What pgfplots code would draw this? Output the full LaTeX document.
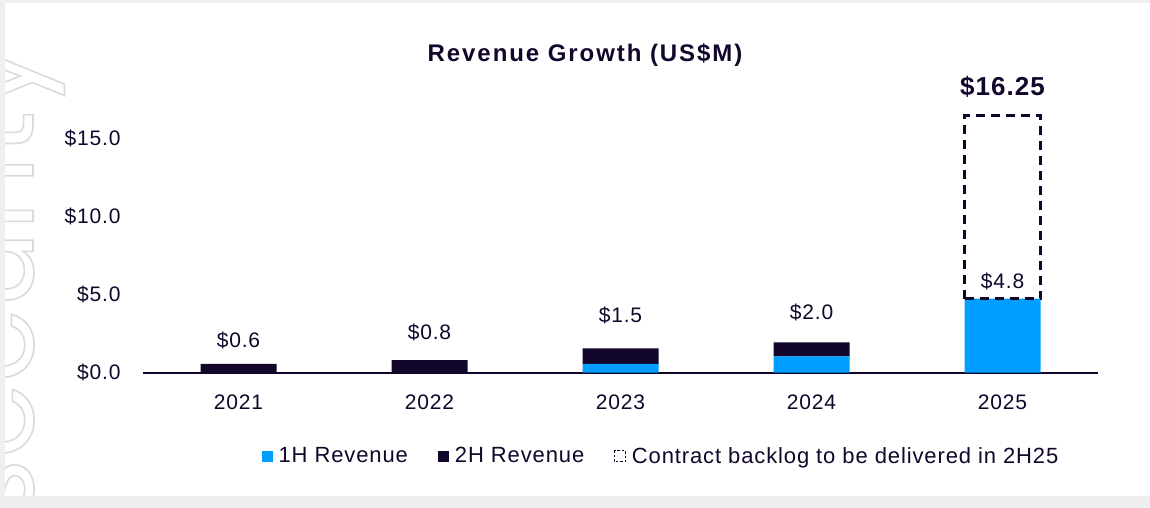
\documentclass[border=0pt]{standalone}
\usepackage{fontspec}
\setmainfont{Liberation Sans}[LetterSpace=4]
\newfontfamily\wmfont{Poppins}
\usepackage{pgfplots}
\pgfplotsset{compat=1.18}
\usepackage{pgfplotstable}
\definecolor{navy}{HTML}{12062A}
\definecolor{cblue}{HTML}{009EFF}
\definecolor{bordergray}{HTML}{EFEFEF}
\definecolor{wmgray}{HTML}{DADADA}

% dy: offset (pt) of each label from the middle of the 2H segment
\pgfplotstableread{
x h1 h2 lab dy
0 0 0.57 0.6 28
1 0 0.80 0.8 34
2 0.56 1.00 1.5 41
3 1.05 0.90 2.0 37
4 4.75 0 4.8 17
}\revtable

\pgfplotstableread{
x base backlog lab1 lab2
4 4.75 11.75 4.8 16.25
}\backlogtable

\pgfplotsset{
  commonaxis/.style={
    at={(143pt,135.3pt)}, anchor=south west,
    scale only axis, width=955pt, height=312pt,
    xmin=-0.5, xmax=4.5, ymin=0, ymax=20,
    ybar stacked, bar width=76pt,
  }
}

\begin{document}
\begin{tikzpicture}[x=1pt,y=1pt]
\path[use as bounding box] (0,0) rectangle (1150,508);
\fill[bordergray] (0,0) rectangle (1150,508);
\fill[white] (5,12) rectangle (1150,505);
\begin{scope}
\clip (5,12) rectangle (1150,505);
\node[rotate=90, anchor=base east, inner sep=0pt, text=wmgray,
  font=\wmfont\fontsize{122}{124}\selectfont] at (33,466)
  {\special{pdf:code 1 Tr 1.6 w}security\special{pdf:code 0 Tr 1 w}};
\end{scope}

\begin{axis}[
  commonaxis,
  axis x line=bottom, axis y line=left,
  y axis line style={draw=none},
  x axis line style={-, line width=2pt, draw=navy},
  xtick={0,1,2,3,4}, xticklabels={2021,2022,2023,2024,2025},
  ytick={0,5,10,15},
  yticklabel={\$\pgfmathprintnumber[fixed,fixed zerofill,precision=1]{\tick}},
  /pgf/number format/assume math mode=true,
  major tick length=0pt, tick style={draw=none},
  tick label style={font=\fontsize{21}{25}\selectfont, text=navy},
  yticklabel style={xshift=-19pt},
  xticklabel style={yshift=-19pt},
  legend columns=3,
  legend style={at={(0.5424,-0.267)}, anchor=center, draw=none, fill=none,
    font=\fontsize{22}{26}\selectfont, text=navy,
    /tikz/every even column/.append style={column sep=28pt}},
]
\addplot[fill=cblue, draw=none,
  legend image code/.code={\fill[cblue] (0pt,-5.5pt) rectangle (11pt,5.5pt); \path (0pt,0pt) (15pt,0pt);}]
  table[x=x, y=h1] {\revtable};
\addlegendentry{1H Revenue}
\addplot[fill=navy, draw=none,
  legend image code/.code={\fill[navy] (0pt,-5.5pt) rectangle (11pt,5.5pt); \path (0pt,0pt) (15pt,0pt);},
  point meta=explicit symbolic,
  visualization depends on={\thisrow{dy} \as \dy},
  nodes near coords={\$\pgfplotspointmeta},
  every node near coord/.append style={anchor=center, yshift=\dy pt,
    font=\fontsize{21}{25}\selectfont, text=navy}]
  table[x=x, y=h2, meta=lab] {\revtable};
\addlegendentry{2H Revenue}
\addlegendimage{legend image code/.code={\draw[navy, line width=0.8pt, dash pattern=on 2.5pt off 2pt] (0pt,-5.5pt) rectangle (11pt,5.5pt); \path (0pt,0pt) (15pt,0pt);}}
\addlegendentry{Contract backlog to be delivered in 2H25}
\end{axis}

\begin{axis}[commonaxis, hide axis]
\addplot[draw=none, fill=none,
  point meta=explicit symbolic,
  nodes near coords={\$\pgfplotspointmeta},
  every node near coord/.append style={anchor=center, yshift=54pt,
    font=\fontsize{21}{25}\selectfont, text=navy}]
  table[x=x, y=base, meta=lab1] {\backlogtable};
\addplot[fill=none, draw=navy, line width=2.5pt, dash pattern=on 9pt off 6pt,
  point meta=explicit symbolic,
  nodes near coords={\$\pgfplotspointmeta},
  every node near coord/.append style={anchor=center, yshift=119.7pt,
    font=\bfseries\fontsize{26}{30}\selectfont, text=navy}]
  table[x=x, y=backlog, meta=lab2] {\backlogtable};
\end{axis}

\node[anchor=base, font=\bfseries\fontsize{24}{28}\selectfont\addfontfeatures{LetterSpace=8}, text=navy]
  at (585,446) {Revenue Growth (US\$M)};
\end{tikzpicture}
\end{document}
